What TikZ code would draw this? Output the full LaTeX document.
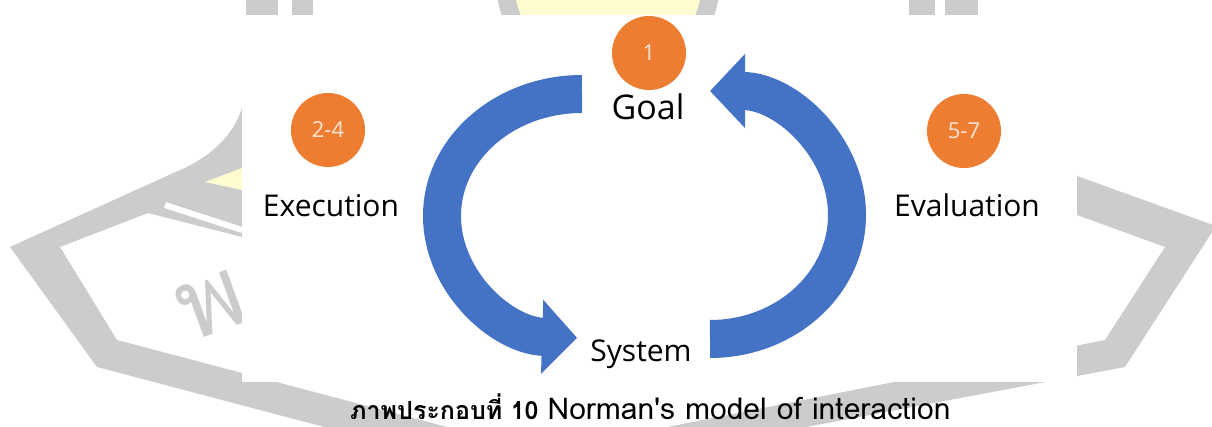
\documentclass[tikz,border=0pt]{standalone}
\usepackage{fontspec}
\setmainfont{Open Sans}
\newfontfamily\thaifont[Script=Thai]{Loma}
\usetikzlibrary{arrows.meta,math}
\definecolor{normanblue}{RGB}{68,114,196}
\definecolor{stageorange}{RGB}{237,125,49}
\definecolor{stagetext}{RGB}{251,229,214}
\definecolor{markgrey}{RGB}{204,204,204}
\definecolor{markyellow}{RGB}{255,253,208}

\begin{document}
\begin{tikzpicture}[x=1pt,y=1pt,
    stagedot/.style={circle, fill=stageorange, text=stagetext, minimum size=74pt, inner sep=0pt, font=\fontsize{22}{24}\selectfont},
    phaselabel/.style={anchor=base, text=black, font=\fontsize{30}{34}\selectfont},
    cyclearrow/.style={line width=38pt, normanblue, -{Triangle[width=72pt,length=35pt]}}]
      \tikzmath{\l = 242; \r = 1077; \b = 44; \t = 411;}
      \useasboundingbox (0,0) rectangle (1212,426);
      \clip (0,0) rectangle (1212,426);
      \fill[white] (0,0) rectangle (1212,426);
      \fill[markgrey, even odd rule] (10,179) -- (180,256) .. controls (215,271) and (238,296) .. (244,326) -- (660,226) -- (1077,250) -- (1216,200) -- (1125,59) -- (525,-54) -- (97,59) -- cycle
            (60,179) -- (148,213) -- (242,189) -- (660,166) -- (1077,211) -- (1165,179) -- (1105,86) -- (542,-26) -- (117,86) -- cycle;
      \draw[white, line width=6pt] (165,221) -- (242,196);
      \fill[markyellow] (205,244) -- (242,258) -- (242,236) -- cycle;
      \fill[markgrey] (608,446) circle (112);
      \fill[markyellow] (608,446) circle (94);
      \fill[markgrey] (246,\t) rectangle (278,426);
      \fill[markgrey] (292,\t) rectangle (313,426);
      \fill[markgrey] (909,\t) rectangle (935,426);
      \fill[markgrey] (945,\t) rectangle (978,426);
      \node[text=markgrey, rotate=20, font=\thaifont\fontsize{100}{100}\selectfont] (pho) at (212,121) {พ};
      \fill[white] (\l,\b) rectangle (\r,\t);
      \node[stagedot] (s1) at (649,373) {1};
      \node[stagedot] (s24) at (328,296) {2-4};
      \node[stagedot] (s57) at (964,295) {5-7};
      \node[phaselabel, font=\fontsize{34}{38}\selectfont] (goal) at (648,306) {Goal};
      \node[phaselabel] (exec) at (331,209) {Execution};
      \node[phaselabel] (eval) at (967,209) {Evaluation};
      \node[phaselabel] (system) at (641,65) {System};
      \coordinate (goaltail) at (582,332);
      \coordinate (systail) at (710,87);
      \draw[cyclearrow] (goaltail) arc[start angle=90, end angle=268, x radius=140, y radius=122];
      \draw[cyclearrow] (systail) arc[start angle=-90, end angle=90, x radius=137, y radius=124];
      \node[anchor=base west, inner sep=0pt, font=\thaifont] (caption) at (350,7) {{\fontsize{25}{30}\selectfont\bfseries ภาพประกอบที่ 10}\hspace{9pt}{\fontsize{30}{34}\selectfont Norman's model of interaction}};
    \end{tikzpicture}
\end{document}
